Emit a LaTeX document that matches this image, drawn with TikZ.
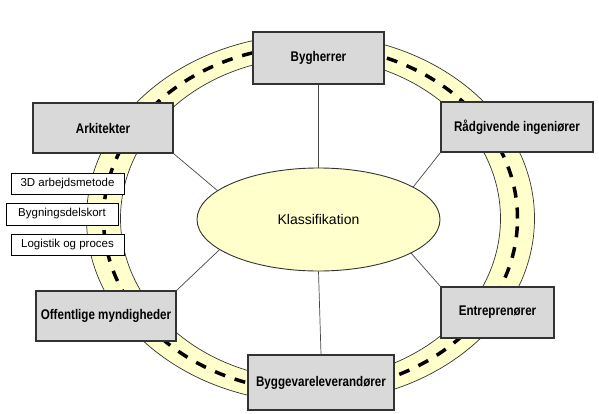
\documentclass[tikz,border=0pt]{standalone}
\usepackage{fontspec}
\setmainfont{Liberation Sans}
\newfontfamily\boxfont[FakeStretch=0.83]{Liberation Sans}
\usetikzlibrary{shapes.geometric}
\definecolor{roadyellow}{HTML}{FFFFCC}
\definecolor{boxgray}{HTML}{D9D9D9}
\definecolor{edgegray}{HTML}{333333}
\tikzset{
  actor/.style={draw=edgegray, line width=1.2pt, fill=boxgray, inner sep=0pt,
    font=\boxfont\bfseries\fontsize{14}{16}\selectfont},
  tag/.style={draw=black, line width=0.7pt, fill=white, inner sep=0pt,
    font=\fontsize{11.5}{13}\selectfont},
  link/.style={draw=edgegray!90, line width=0.7pt},
  roadedge/.style={draw=black!80, line width=0.7pt},
  roadline/.style={draw=black, line width=3.5pt, dash pattern=on 11pt off 10pt}
}
\begin{document}
\begin{tikzpicture}[x=1pt,y=-1pt]
\useasboundingbox (0,0) rectangle (599,414);
% road ring
\filldraw[roadedge, fill=roadyellow] (310.5,218.5) ellipse [x radius=224pt, y radius=184pt];
\filldraw[roadedge, fill=white] (310.5,218.5) ellipse [x radius=190pt, y radius=161pt];
\draw[roadline] (310.5,218.5) ellipse [x radius=207pt, y radius=172.5pt];
% centre
\node[ellipse, draw=edgegray, line width=0.9pt, fill=roadyellow, minimum width=243pt, minimum height=103pt, inner sep=0pt, font=\fontsize{14}{16}\selectfont] (ell) at (318.5,219.5) {Klassifikation};
% actors
\node[actor, minimum width=131pt, minimum height=52pt] (byg) at (318.5,58) {Bygherrer};
\node[actor, minimum width=140pt, minimum height=50pt] (ark) at (103,128) {Arkitekter};
\node[actor, minimum width=152pt, minimum height=50pt] (rad) at (517,127) {Rådgivende ingeniører};
\node[actor, minimum width=113pt, minimum height=51pt] (ent) at (497.5,312.5) {Entreprenører};
\node[actor, minimum width=140pt, minimum height=50pt] (off) at (106,316) {Offentlige myndigheder};
\node[actor, minimum width=146pt, minimum height=55pt] (bvl) at (321,382.5) {Byggevareleverandører};
% tags
\node[tag, minimum width=113pt, minimum height=21pt] (t1) at (67.5,183.5) {3D arbejdsmetode};
\node[tag, minimum width=112pt, minimum height=22pt] (t2) at (62,214) {Bygningsdelskort};
\node[tag, minimum width=113pt, minimum height=21pt] (t3) at (67.5,244.5) {Logistik og proces};
% connectors
\draw[link] (byg.south) -- (ell.north);
\draw[link] (ell.south) -- (bvl.north);
\draw[link] (ark.south east) -- (ell.164);
\draw[link] (off.north east) -- (ell.197);
\draw[link] (rad.south west) -- (ell.19);
\draw[link] (ent.north west) -- (ell.-20);
\end{tikzpicture}
\end{document}
